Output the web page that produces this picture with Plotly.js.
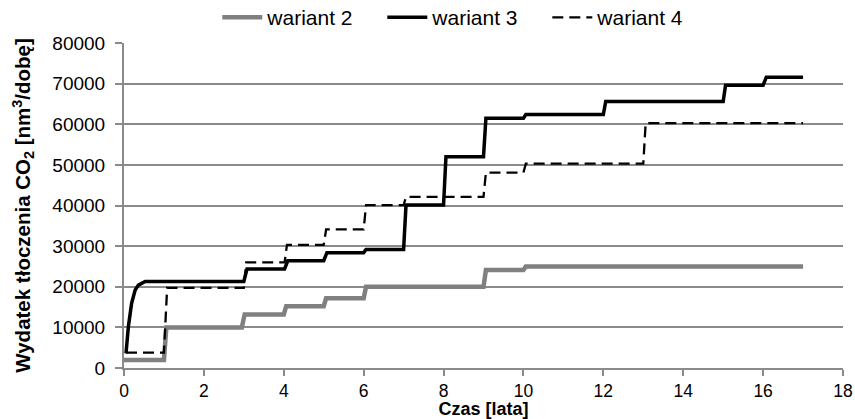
<!DOCTYPE html>
<html>
<head>
<meta charset="utf-8">
<script src="https://cdn.plot.ly/plotly-3.0.1.min.js"></script>
<style>
html,body{margin:0;padding:0;background:#fff;}
#chart{width:855px;height:419px;}
</style>
</head>
<body>
<div id="chart"></div>
<script>
// Data
const seriesNames = ["wariant 2", "wariant 3", "wariant 4"];

const w2_x = [0, 1.0, 1.06, 2.95, 3.02, 4.0, 4.06, 5.0, 5.06, 6.0, 6.06, 9.0, 9.06, 10.0, 10.06, 17.0];
const w2_y = [2000, 2000, 10000, 10000, 13200, 13200, 15200, 15200, 17200, 17200, 20000, 20000, 24100, 24100, 25000, 25000];

const w3_x = [0.05, 0.11, 0.19, 0.28, 0.36, 0.53, 3.0, 3.08, 4.02, 4.1, 5.0, 5.08, 6.0, 6.06, 7.0, 7.06, 8.0, 8.06, 9.0, 9.06, 10.0, 10.06, 12.0, 12.06, 15.0, 15.06, 16.0, 16.08, 17.0];
const w3_y = [3600, 10200, 15900, 19200, 20400, 21300, 21300, 24400, 24400, 26400, 26400, 28400, 28400, 29200, 29200, 40100, 40100, 52000, 52000, 61500, 61500, 62400, 62400, 65600, 65600, 69600, 69600, 71600, 71600];

const w4_x = [0.05, 1.0, 1.08, 3.0, 3.06, 4.02, 4.08, 5.0, 5.06, 6.0, 6.06, 7.0, 7.06, 9.0, 9.06, 10.0, 10.06, 13.0, 13.06, 17.0];
const w4_y = [3800, 3800, 19700, 19700, 26000, 26000, 30300, 30300, 34100, 34100, 40100, 40100, 42100, 42100, 48100, 48100, 50300, 50300, 60300, 60300];

const xTicks = [0, 2, 4, 6, 8, 10, 12, 14, 16, 18];
const yTicks = [0, 10000, 20000, 30000, 40000, 50000, 60000, 70000, 80000];

const gridGray = "#8a8a8a";

const traces = [
  {x: w2_x, y: w2_y, name: seriesNames[0], type: "scatter", mode: "lines",
   line: {color: "#808080", width: 4.5}},
  {x: w3_x, y: w3_y, name: seriesNames[1], type: "scatter", mode: "lines",
   line: {color: "#000000", width: 3.5}},
  {x: w4_x, y: w4_y, name: seriesNames[2], type: "scatter", mode: "lines",
   line: {color: "#000000", width: 2.3, dash: "11px,6px"}}
];

const layout = {
  width: 855, height: 419,
  margin: {l: 124, r: 12, t: 43, b: 51, autoexpand: false},
  paper_bgcolor: "#fff", plot_bgcolor: "#fff",
  font: {family: "Liberation Sans, Arial, sans-serif", color: "#000", size: 16},
  showlegend: true,
  legend: {orientation: "h", x: 0.474, xanchor: "center",
           y: 1.015, yanchor: "bottom",
           font: {size: 21, family: "Liberation Sans, Arial, sans-serif"},
           itemwidth: 40, entrywidth: 110, entrywidthmode: "pixels"},
  xaxis: {
    range: [0, 18], tickvals: xTicks, ticktext: xTicks.map(String),
    showgrid: false, zeroline: false,
    showline: true, linecolor: gridGray, linewidth: 2,
    ticks: "outside", ticklen: 6, tickwidth: 2, tickcolor: gridGray,
    tickfont: {family: "Liberation Sans Narrow, Arial Narrow, sans-serif", size: 17.5, color: "#000"},
    title: {text: "<b>Czas [lata]</b>", font: {size: 18, family: "Liberation Sans, Arial, sans-serif"}, standoff: 4}
  },
  yaxis: {
    range: [0, 80000], tickvals: yTicks, ticktext: yTicks.map(String),
    showgrid: true, gridcolor: gridGray, gridwidth: 2,
    zeroline: false,
    showline: true, linecolor: gridGray, linewidth: 2,
    ticks: "outside", ticklen: 7, tickwidth: 2, tickcolor: gridGray,
    ticklabelstandoff: 6,
    tickfont: {family: "Liberation Sans, Arial, sans-serif", size: 19, color: "#000"},
    title: {text: "<b>Wydatek tłoczenia CO<sub>2</sub> [nm<sup>3</sup>/dobę]</b>", font: {size: 20.5, family: "Liberation Sans, Arial, sans-serif"}, standoff: 16}
  }
};

Plotly.newPlot("chart", traces, layout, {displayModeBar: false, staticPlot: true});
</script>
</body>
</html>
